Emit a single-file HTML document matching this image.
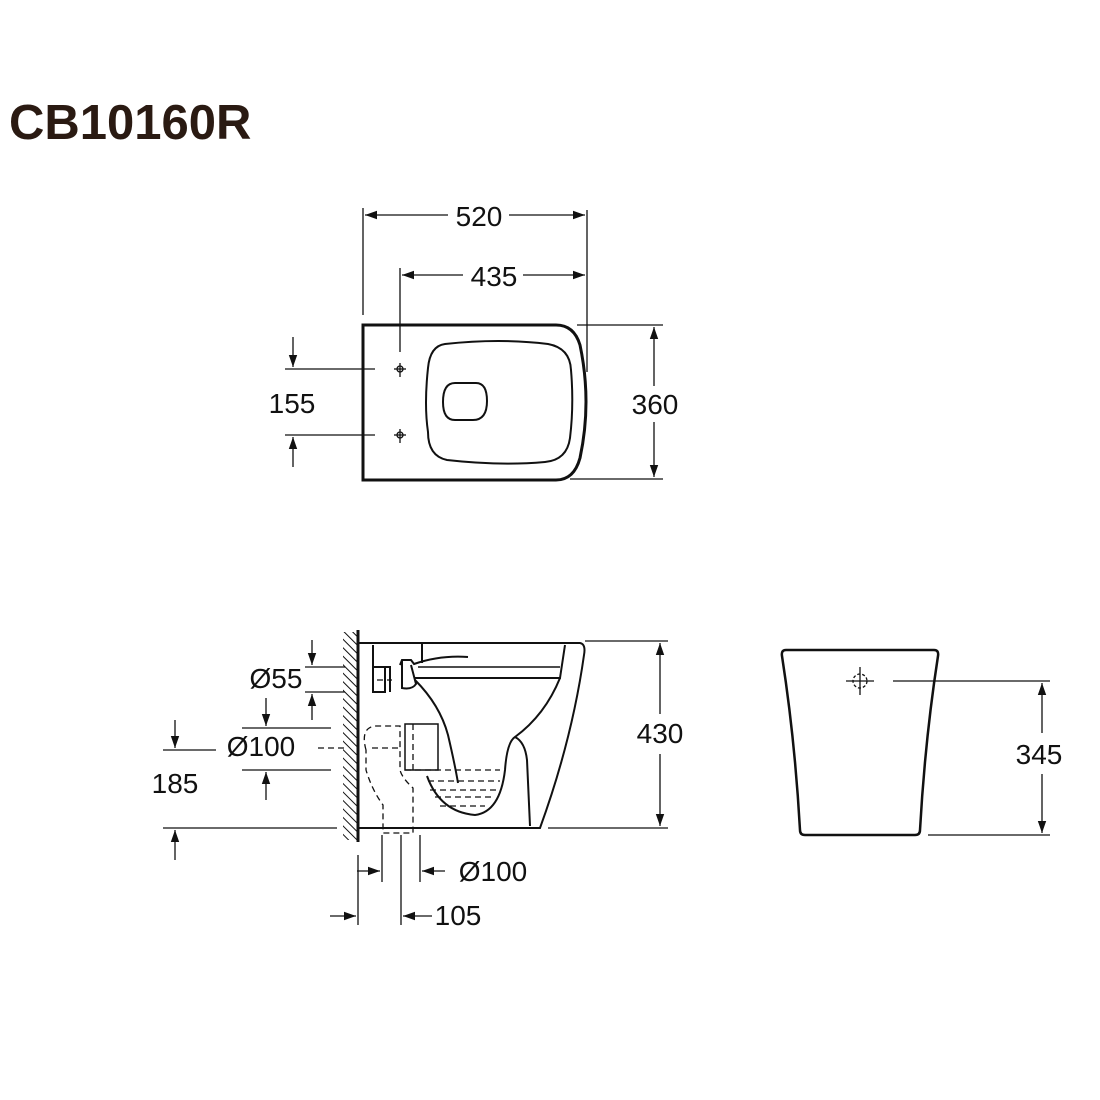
<!DOCTYPE html>
<html><head><meta charset="utf-8"><style>
html,body{margin:0;padding:0;background:#fff;}
svg{display:block}
text{font-family:"Liberation Sans",Arial,sans-serif;fill:#111}
</style></head><body>
<svg width="1100" height="1100" viewBox="0 0 1100 1100" xmlns="http://www.w3.org/2000/svg">
<defs>
<marker id="a" viewBox="0 0 10 10" refX="10" refY="5" markerWidth="12" markerHeight="12" markerUnits="userSpaceOnUse" orient="auto-start-reverse"><path d="M0,1.5 L10,5 L0,8.5 Z" fill="#111"/></marker>
<pattern id="h" width="6" height="6" patternUnits="userSpaceOnUse" patternTransform="rotate(-45)"><line x1="0" y1="0" x2="0" y2="6" stroke="#111" stroke-width="2"/></pattern>
</defs>
<text x="9" y="139" font-size="49" font-weight="bold" style="fill:#2a1a12">CB10160R</text>

<g stroke="#111" fill="none" stroke-width="1.3">
<line x1="363" y1="208" x2="363" y2="315"/>
<line x1="587" y1="210" x2="587" y2="372"/>
<line x1="365" y1="215" x2="448" y2="215" marker-start="url(#a)"/>
<line x1="509" y1="215" x2="585" y2="215" marker-end="url(#a)"/>
<line x1="400" y1="268" x2="400" y2="352"/>
<line x1="402" y1="275" x2="463" y2="275" marker-start="url(#a)"/>
<line x1="523" y1="275" x2="585" y2="275" marker-end="url(#a)"/>
<line x1="285" y1="369" x2="375" y2="369"/>
<line x1="285" y1="435" x2="375" y2="435"/>
<line x1="293" y1="337" x2="293" y2="367" marker-end="url(#a)"/>
<line x1="293" y1="467" x2="293" y2="437" marker-end="url(#a)"/>
<line x1="577" y1="325" x2="663" y2="325"/>
<line x1="570" y1="479" x2="663" y2="479"/>
<line x1="654" y1="327" x2="654" y2="386" marker-start="url(#a)"/>
<line x1="654" y1="422" x2="654" y2="477" marker-end="url(#a)"/>
</g>
<text x="479" y="226" font-size="28" text-anchor="middle">520</text>
<text x="494" y="286" font-size="28" text-anchor="middle">435</text>
<text x="292" y="413" font-size="28" text-anchor="middle">155</text>
<text x="655" y="414" font-size="28" text-anchor="middle">360</text>

<path d="M363,325 H556 Q574,325 580,345 Q592,402 580,458 Q574,480 556,480 H363 Z" fill="none" stroke="#111" stroke-width="3"/>
<path d="M445,344 Q500,338 548,344 Q570,348 571,370 Q574,405 570,438 Q567,460 545,462 Q500,466 447,460 Q428,456 428,432 Q424,405 428,368 Q430,346 445,344 Z" fill="none" stroke="#111" stroke-width="2"/>
<path d="M455,383 H476 Q487,383 487,401 Q487,420 473,420 H455 Q443,420 443,402 Q443,383 455,383 Z" fill="none" stroke="#111" stroke-width="2"/>
<g stroke="#111" stroke-width="1.3" fill="none">
<circle cx="400" cy="369" r="3"/><line x1="394" y1="369" x2="406" y2="369"/><line x1="400" y1="363" x2="400" y2="377"/>
<circle cx="400" cy="435" r="3"/><line x1="394" y1="435" x2="406" y2="435"/><line x1="400" y1="429" x2="400" y2="443"/>
</g>

<rect x="343" y="632" width="14" height="208" fill="url(#h)"/>
<line x1="358" y1="630" x2="358" y2="842" stroke="#111" stroke-width="3"/>
<g stroke="#111" fill="none" stroke-width="2">
<path d="M358,643 H580 Q586,644 584,655 Q572,740 540,828 H358"/>
<path d="M565,645 Q562,665 560,678 H415"/>
<path d="M560,678 Q545,715 515,737"/>
<path d="M415,680 Q440,705 448,735 Q455,765 458,783"/>
<path d="M427,776 Q440,812 475,815 Q500,812 505,770 Q507,742 515,737 Q525,742 527,760 L530,826"/>
<path d="M373,645 V692 H385 V667 H373"/>
<path d="M385,667 H390 V692"/>
<path d="M422,643 V663"/>
<path d="M400,665 L402,660 H411 L414,664 Q440,655 468,657" />
<path d="M402,660 V688 Q412,690 416,684 L411,665"/>
<path d="M418,667 H560" stroke-width="1.5"/>
<path d="M405,724 H438 V770 H405 Z" stroke-width="1.5"/>
</g>
<g stroke="#111" fill="none" stroke-width="1.3" stroke-dasharray="6,4">
<path d="M366,750 Q360,728 375,726 H400 V770 Q402,778 413,788 V833 H383 V805 Q372,790 366,770 Z"/>
<line x1="413" y1="724" x2="413" y2="770"/>
<line x1="405" y1="770" x2="500" y2="770"/>
<line x1="428" y1="781" x2="500" y2="781"/>
<line x1="430" y1="790" x2="497" y2="790"/>
<line x1="435" y1="797" x2="492" y2="797"/>
<line x1="440" y1="806" x2="485" y2="806"/>
<line x1="318" y1="748" x2="345" y2="748"/>
<line x1="372" y1="748" x2="402" y2="748"/>
<line x1="377" y1="680" x2="392" y2="680"/>
</g>
<g stroke="#111" fill="none" stroke-width="1.3">
<line x1="305" y1="667" x2="345" y2="667"/>
<line x1="305" y1="692" x2="345" y2="692"/>
<line x1="312" y1="640" x2="312" y2="665" marker-end="url(#a)"/>
<line x1="312" y1="720" x2="312" y2="694" marker-end="url(#a)"/>
<line x1="242" y1="728" x2="331" y2="728"/>
<line x1="242" y1="770" x2="331" y2="770"/>
<line x1="266" y1="698" x2="266" y2="726" marker-end="url(#a)"/>
<line x1="266" y1="800" x2="266" y2="772" marker-end="url(#a)"/>
<line x1="163" y1="750" x2="216" y2="750"/>
<line x1="163" y1="828" x2="337" y2="828"/>
<line x1="175" y1="720" x2="175" y2="748" marker-end="url(#a)"/>
<line x1="175" y1="860" x2="175" y2="830" marker-end="url(#a)"/>
<line x1="585" y1="641" x2="668" y2="641"/>
<line x1="548" y1="828" x2="668" y2="828"/>
<line x1="660" y1="643" x2="660" y2="714" marker-start="url(#a)"/>
<line x1="660" y1="754" x2="660" y2="826" marker-end="url(#a)"/>
<line x1="382" y1="835" x2="382" y2="882"/>
<line x1="420" y1="835" x2="420" y2="882"/>
<line x1="357" y1="871" x2="380" y2="871" marker-end="url(#a)"/>
<line x1="445" y1="871" x2="422" y2="871" marker-end="url(#a)"/>
<line x1="401" y1="835" x2="401" y2="925"/>
<line x1="358" y1="855" x2="358" y2="925"/>
<line x1="330" y1="916" x2="356" y2="916" marker-end="url(#a)"/>
<line x1="432" y1="916" x2="403" y2="916" marker-end="url(#a)"/>
</g>
<text x="276" y="688" font-size="28" text-anchor="middle">Ø55</text>
<text x="261" y="756" font-size="28" text-anchor="middle">Ø100</text>
<text x="175" y="793" font-size="28" text-anchor="middle">185</text>
<text x="660" y="743" font-size="28" text-anchor="middle">430</text>
<text x="493" y="881" font-size="28" text-anchor="middle">Ø100</text>
<text x="458" y="925" font-size="28" text-anchor="middle">105</text>

<path d="M786,650 H934 Q939,650 938,656 Q925,740 920,830 Q920,835 915,835 H805 Q800,835 800,830 Q795,740 782,656 Q781,650 786,650 Z" fill="none" stroke="#111" stroke-width="2.5"/>
<g stroke="#111" fill="none" stroke-width="1.3">
<circle cx="860" cy="681" r="7" stroke-dasharray="3,2"/>
<line x1="846" y1="681" x2="874" y2="681"/>
<line x1="860" y1="667" x2="860" y2="695"/>
<line x1="893" y1="681" x2="1050" y2="681"/>
<line x1="928" y1="835" x2="1050" y2="835"/>
<line x1="1042" y1="683" x2="1042" y2="733" marker-start="url(#a)"/>
<line x1="1042" y1="774" x2="1042" y2="833" marker-end="url(#a)"/>
</g>
<text x="1039" y="764" font-size="28" text-anchor="middle">345</text>
</svg>
</body></html>
